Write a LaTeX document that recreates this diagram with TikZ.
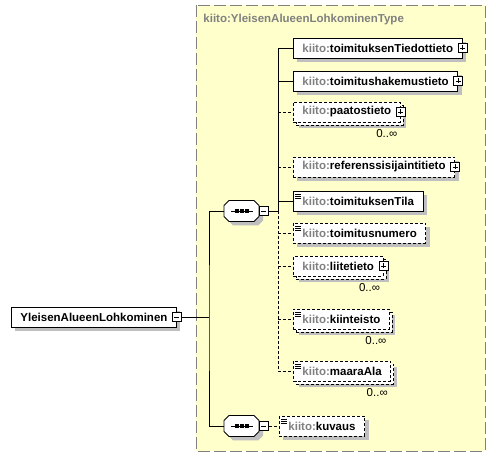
\documentclass[tikz,border=0pt]{standalone}
\usepackage{fontspec}
\setmainfont{Liberation Sans}
\usetikzlibrary{shadows}
\definecolor{typefill}{HTML}{FFFFCC}
\definecolor{prefix}{HTML}{808080}
\newcommand{\kiito}[1]{\textcolor{prefix}{kiito:}#1}
\newcommand{\octo}[2]{([shift={(#2)}]#1.west) ++(0,-5.5) -- ++(5,-5) -- ++(25,0) -- ++(5,5)
  -- ++(0,11) -- ++(-5,5) -- ++(-25,0) -- ++(-5,-5) -- cycle}
\begin{document}
\begin{tikzpicture}
[x=1pt, y=-1pt, line width=.9pt,
 nodes={font=\fontsize{11.5}{13}\selectfont\bfseries, inner sep=0},
 opt/.style={dash pattern=on 3pt off 2pt},
 box/.style={draw, fill=white, anchor=west, minimum height=20pt, inner xsep=9pt},
 one/.style={box, drop shadow={shadow xshift=4pt, shadow yshift=-4pt, fill=black!25, opacity=1}},
 many/.style={box, opt, drop shadow={shadow xshift=6pt, shadow yshift=-6pt, fill=black!25, opacity=1},
   copy shadow={shadow xshift=3pt, shadow yshift=-3pt, draw, fill=white, opt}},
 leaf/.style={path picture={\foreach \k in {3,5,7}
   \draw[solid, line width=.6pt] ([shift={(2pt,-\k pt)}]path picture bounding box.north west) -- ++(6,0);}},
 icon/.style={draw, solid, fill=white, minimum size=9pt, inner sep=0, anchor=center, line width=.8pt},
 minus/.style={icon, path picture={\draw ([xshift=2pt]path picture bounding box.west) -- ([xshift=-2pt]path picture bounding box.east);}},
 plus/.style={icon, path picture={\draw ([xshift=2pt]path picture bounding box.west) -- ([xshift=-2pt]path picture bounding box.east);
   \draw ([yshift=-2pt]path picture bounding box.north) -- ([yshift=2pt]path picture bounding box.south);}},
 seq/.style={anchor=west, minimum width=35pt, minimum height=21pt},
 card/.style={font=\fontsize{11.5}{13}\selectfont, anchor=north east}]
\useasboundingbox (0,0) rectangle (496,457);

% complex type frame
\draw [draw=prefix, fill=typefill, dash pattern=on 12pt off 4pt] (196,5) rectangle (485,451);
\node (Title) at (203,20) [anchor=west, text=prefix] {kiito:YleisenAlueenLohkominenType};

\node (Root) at (11,317) [one] {YleisenAlueenLohkominen};
\node (RootM) at (Root.east) [minus] {};

% sequence compositors
\node (SeqA) at (224,211) [seq] {};
\node (SeqB) at (224,426) [seq] {};
\foreach \s in {SeqA, SeqB} {
  \fill [black!25] \octo{\s}{4pt,-4pt};
  \draw [fill=white] \octo{\s}{0pt,0pt};
  \draw ([xshift=-11pt]\s.center) -- ([xshift=11pt]\s.center);
  \foreach \d in {-5,0,5}
    \fill ([xshift=\d pt]\s.center) ++(-1.7,-1.7) rectangle ++(3.4,3.4);
}
\node (SeqAM) at ([xshift=4pt]SeqA.east) [minus] {};
\node (SeqBM) at ([xshift=4pt]SeqB.east) [minus] {};

\node (Tiedot) at (293,48) [one] {\kiito{toimituksenTiedottieto}};
\node (TiedotP) at (Tiedot.east) [plus] {};
\node (Hakemus) at (293,81) [one] {\kiito{toimitushakemustieto}};
\node (HakemusP) at (Hakemus.east) [plus] {};
\node (Paatos) at (293,112) [many] {\kiito{paatostieto}};
\node (PaatosP) at (Paatos.east) [plus] {};
\node (PaatosN) at ([shift={(-3,7)}]Paatos.south east) [card] {0..∞};
\node (Refer) at (293,167) [one, opt] {\kiito{referenssisijaintitieto}};
\node (ReferP) at (Refer.east) [plus] {};
\node (Tila) at (293,201) [one, leaf] {\kiito{toimituksenTila}};
\node (Numero) at (293,233) [one, opt, leaf] {\kiito{toimitusnumero}};
\node (Liite) at (293,266) [many] {\kiito{liitetieto}};
\node (LiiteP) at (Liite.east) [plus] {};
\node (LiiteN) at ([shift={(-3,7)}]Liite.south east) [card] {0..∞};
\node (Kiint) at (293,319) [many, leaf] {\kiito{kiinteisto}};
\node (KiintN) at ([shift={(-3,7)}]Kiint.south east) [card] {0..∞};
\node (Maara) at (293,371) [many, leaf] {\kiito{maaraAla}};
\node (MaaraN) at ([shift={(-3,7)}]Maara.south east) [card] {0..∞};
\node (Kuvaus) at (279,426) [one, opt, leaf] {\kiito{kuvaus}};

\coordinate (Fork) at (209,317);
\coordinate (Bus) at (278,211);
\draw (RootM.east) -- (Fork);
\draw (SeqA.west) -| (Fork) |- (SeqB.west);
\draw (SeqAM.east) -- (Bus);
\draw (Tiedot.west) -| (Bus);
\draw (Hakemus.west) -- (Bus |- Hakemus.west);
\draw (Tila.west) -- (Bus |- Tila.west);
\draw [opt] (Bus) |- (Maara.west);
\foreach \n in {Paatos, Refer, Numero, Liite, Kiint}
  \draw [opt] (Bus |- \n.west) -- (\n.west);
\draw [opt] (SeqBM.east) -- (Kuvaus.west);
\end{tikzpicture}
\end{document}
